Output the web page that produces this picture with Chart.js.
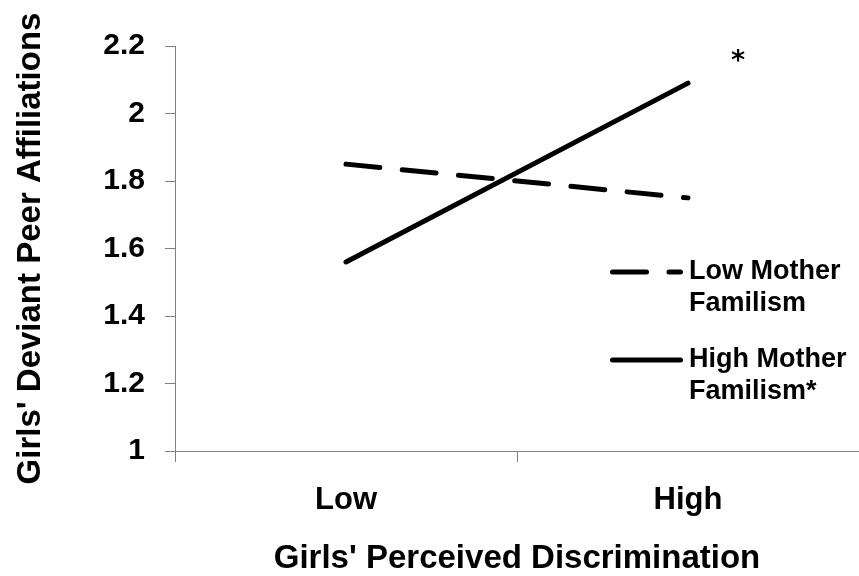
<!DOCTYPE html>
<html><head><meta charset="utf-8">
<script src="https://cdn.jsdelivr.net/npm/chart.js@4"></script>
<style>html,body{margin:0;padding:0;background:#fff}#wrap{width:859px;height:576px}</style>
</head><body><div id="wrap"><canvas id="c" width="859" height="576"></canvas></div>
<script>
const categories = ['Low', 'High'];
const lowMotherFamilism = [1.85, 1.75];
const highMotherFamilism = [1.56, 2.09];
const seriesLabels = [['Low Mother', 'Familism'], ['High Mother', 'Familism*']];
const yTicks = [1, 1.2, 1.4, 1.6, 1.8, 2, 2.2];
const xTitle = "Girls' Perceived Discrimination";
const yTitle = "Girls' Deviant Peer Affiliations";
const significanceMark = '*';

const FAMILY = "'Liberation Sans', Arial, Helvetica, sans-serif";
const AXIS = '#808080';

const legendPlugin = {
  id: 'customLegend',
  afterDraw(chart) {
    const ctx = chart.ctx;
    const ca = chart.chartArea;
    const x0 = ca.left + 435, x1 = ca.left + 508, tx = ca.left + 514;
    const rows = [ca.top + 226, ca.top + 314];
    ctx.save();
    chart.data.datasets.forEach((ds, i) => {
      const y = rows[i];
      ctx.beginPath();
      ctx.strokeStyle = ds.borderColor;
      ctx.lineWidth = ds.borderWidth;
      ctx.lineCap = ds.borderCapStyle || 'butt';
      ctx.setLineDash(ds.borderDash || []);
      ctx.moveTo(x0 + 2.5, y);
      ctx.lineTo(x1 - 2.5, y);
      ctx.stroke();
      ctx.setLineDash([]);
      ctx.fillStyle = '#000';
      ctx.font = "bold 27px " + FAMILY;
      ctx.textAlign = 'left';
      ctx.textBaseline = 'middle';
      seriesLabels[i].forEach((line, j) => ctx.fillText(line, tx, y + j * 32));
    });
    // significance asterisk next to the end of the high-familism line
    const meta = chart.getDatasetMeta(1);
    const p = meta.data[meta.data.length - 1];
    ctx.font = "bold 27px 'DejaVu Sans', sans-serif";
    ctx.textAlign = 'center';
    ctx.textBaseline = 'alphabetic';
    ctx.fillText(significanceMark, p.x + 50, p.y - 14);
    ctx.restore();
  }
};

new Chart(document.getElementById('c'), {
  type: 'line',
  data: {
    labels: categories,
    datasets: [
      { label: seriesLabels[0].join(' '), data: lowMotherFamilism, borderColor: '#000', borderWidth: 5,
        borderDash: [34, 22.5], borderCapStyle: 'round', pointRadius: 0, fill: false, tension: 0 },
      { label: seriesLabels[1].join(' '), data: highMotherFamilism, borderColor: '#000', borderWidth: 5,
        borderCapStyle: 'round', pointRadius: 0, fill: false, tension: 0 }
    ]
  },
  options: {
    responsive: false,
    devicePixelRatio: 1,
    animation: false,
    layout: { padding: { top: 46, right: 0, left: 0, bottom: 0 } },
    plugins: { legend: { display: false }, tooltip: { enabled: false } },
    scales: {
      x: {
        offset: true,
        grid: { offset: true, drawOnChartArea: false, drawTicks: true, tickLength: 11, color: AXIS, lineWidth: 1 },
        border: { display: true, color: AXIS, width: 1 },
        ticks: { color: '#000', font: { family: FAMILY, size: 31, weight: 'bold' }, padding: 20, maxRotation: 0 },
        title: { display: true, text: xTitle, color: '#000', font: { family: FAMILY, size: 33, weight: 'bold', lineHeight: 1.05 }, padding: { top: 0, bottom: 0 } },
        afterFit: s => { s.height = 125; }
      },
      y: {
        min: 1, max: 2.2,
        afterBuildTicks: s => { s.ticks = yTicks.map(v => ({ value: v })); },
        grid: { drawOnChartArea: false, drawTicks: true, tickLength: 10, color: AXIS, lineWidth: 1 },
        border: { display: true, color: AXIS, width: 1 },
        ticks: { color: '#000', font: { family: FAMILY, size: 30, weight: 'bold' }, padding: 20,
          callback: v => String(Number(v.toFixed(1))) },
        title: { display: true, text: yTitle, color: '#000', font: { family: FAMILY, size: 33, weight: 'bold' }, padding: { top: 11, bottom: 0 } },
        afterFit: s => { s.width = 175; }
      }
    }
  },
  plugins: [legendPlugin]
});
</script></body></html>
